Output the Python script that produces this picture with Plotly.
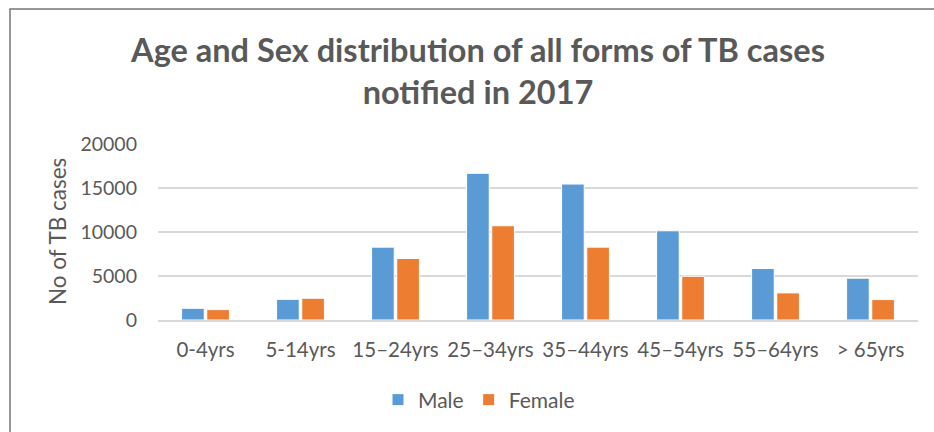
import plotly.graph_objects as go

categories = ["0-4yrs", "5-14yrs", "15–24yrs", "25–34yrs", "35–44yrs", "45–54yrs", "55–64yrs", "> 65yrs"]
male = [1330, 2350, 8280, 16670, 15450, 10140, 5850, 4750]
female = [1180, 2470, 6990, 10710, 8280, 4970, 3080, 2320]
y_ticks = [0, 5000, 10000, 15000, 20000]
y_tick_labels = ["0", "5000", "10000", "15000", "20000"]

W, H = 934, 432
L, R, T, B = 158, 16, 144, 112
pw, ph = W - L - R, H - T - B

def px_x(p):
    return (p - L) / pw

def px_y(p):
    return (H - B - p) / ph

font = "Lato, Liberation Sans, sans-serif"
grey = "#595959"

fig = go.Figure()
fig.add_trace(go.Bar(name="Male", x=categories, y=male, marker=dict(color="#5b9bd5", line=dict(color="#ffffff", width=1))))
fig.add_trace(go.Bar(name="Female", x=categories, y=female, marker=dict(color="#ed7d31", line=dict(color="#ffffff", width=1))))

fig.update_layout(
    width=W, height=H,
    margin=dict(l=L, r=R, t=T, b=B, autoexpand=False),
    paper_bgcolor="white", plot_bgcolor="white",
    barmode="group", bargap=0.47, bargroupgap=0.1,
    font=dict(family=font, color=grey, size=19),
    title=dict(text="<b>Age and Sex distribution of all forms of TB cases<br>notified in 2017</b>",
               x=478 / W, xanchor="center", y=1 - 62 / H, yanchor="middle",
               font=dict(size=32.5, color=grey, family=font)),
    showlegend=True,
    legend=dict(orientation="h", x=px_x(479), xanchor="center", y=px_y(400), yanchor="middle",
                font=dict(size=21, color=grey), itemwidth=30, traceorder="normal"),
    xaxis=dict(showgrid=False, showline=True, linecolor="#d9d9d9", linewidth=1.5,
               ticks="", tickfont=dict(size=20.5, color=grey), ticklabelstandoff=11),
    yaxis=dict(range=[0, 20000], tickvals=y_ticks, ticktext=y_tick_labels,
               showgrid=True, gridcolor="#d9d9d9", gridwidth=1.5,
               zeroline=False, showline=False, ticks="", tickfont=dict(size=19.5, color=grey),
               ticklabelstandoff=20),
)

fig.add_annotation(text="No of TB cases", textangle=-90, x=px_x(57), y=0.5, xref="paper", yref="paper",
                   showarrow=False, font=dict(size=22.5, color=grey, family=font), xanchor="center", yanchor="middle")

fig.add_shape(type="rect", xref="paper", yref="paper",
              x0=px_x(10), x1=px_x(945), y0=px_y(445), y1=px_y(9),
              line=dict(color="#767676", width=1.5), fillcolor="rgba(0,0,0,0)", layer="below")

fig.write_html("out.html", config={"displayModeBar": False},
               post_script="document.body.style.margin='0px';document.body.style.overflow='hidden';")
